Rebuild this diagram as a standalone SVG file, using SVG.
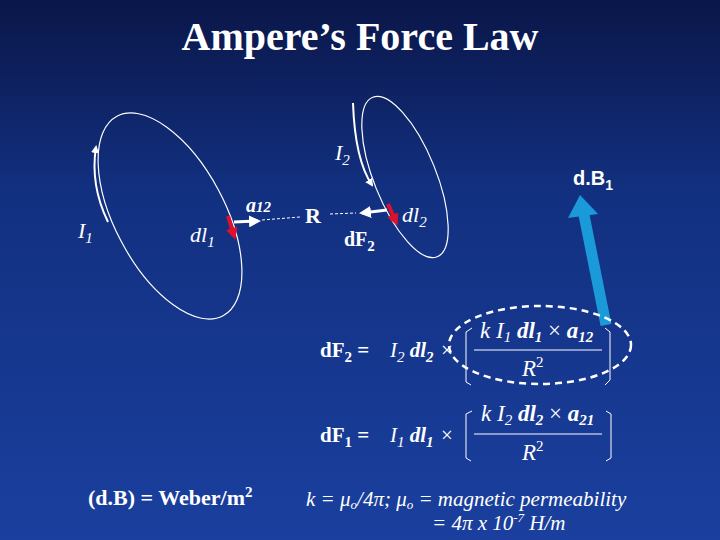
<svg xmlns="http://www.w3.org/2000/svg" width="720" height="540" viewBox="0 0 720 540">
<defs>
<linearGradient id="bg" x1="0" y1="0" x2="0" y2="1"><stop offset="0" stop-color="#0a1648"/><stop offset="0.35" stop-color="#123080"/><stop offset="1" stop-color="#1a3f9e"/></linearGradient>
<marker id="wa" markerWidth="4" markerHeight="4" refX="3" refY="2" orient="auto" markerUnits="strokeWidth"><path d="M0,0L4,2L0,4z" fill="#fff"/></marker>
<marker id="ra" markerWidth="3" markerHeight="3" refX="2" refY="1.5" orient="auto" markerUnits="strokeWidth"><path d="M0,0L3,1.5L0,3z" fill="#e0102a"/></marker>
<style>
.t{font-family:"Liberation Serif",serif;fill:#fff}
.b{font-weight:bold}.i{font-style:italic}
.loop{fill:none;stroke:#fff;stroke-width:1.2}
.br{fill:none;stroke:#fff;stroke-width:1}
</style>
</defs>
<rect width="720" height="540" fill="url(#bg)"/>
<text class="t b" x="360" y="50" font-size="40" text-anchor="middle">Ampere’s Force Law</text>
<g id="loop1"><ellipse class="loop" cx="170" cy="216" rx="55" ry="113" transform="rotate(-28 170 216)"/></g>
<g id="loop2"><ellipse class="loop" cx="405" cy="177" rx="31" ry="86" transform="rotate(-22 405 177)"/></g>
<g id="connectors">
<path d="M108,222 Q90,185 96,147" fill="none" stroke="#fff" stroke-width="2" marker-end="url(#wa)"/>
<path d="M353,103 Q355,160 372,185" fill="none" stroke="#fff" stroke-width="2" marker-end="url(#wa)"/>
<line x1="228" y1="216" x2="234" y2="236" stroke="#e0102a" stroke-width="4" marker-end="url(#ra)"/>
<line x1="388" y1="204" x2="396" y2="222" stroke="#e0102a" stroke-width="4" marker-end="url(#ra)"/>
<line x1="234" y1="222" x2="258" y2="221" stroke="#fff" stroke-width="3" marker-end="url(#wa)"/>
<line x1="262" y1="220" x2="300" y2="217" stroke="#fff" stroke-width="1" stroke-dasharray="3,2"/>
<line x1="330" y1="214" x2="356" y2="213" stroke="#fff" stroke-width="1" stroke-dasharray="3,2"/>
<line x1="387" y1="210" x2="362" y2="213" stroke="#fff" stroke-width="3" marker-end="url(#wa)"/>
<line x1="606" y1="325" x2="584" y2="215" stroke="#1a9ad8" stroke-width="11"/>
<path d="M568,218 L580,195 L598,214 z" fill="#1a9ad8"/>
</g>
<g id="labels">
<text class="t i" x="78" y="238" font-size="22">I<tspan font-size="15" dy="5">1</tspan></text>
<text class="t i" x="190" y="242" font-size="22">dl<tspan font-size="15" dy="5">1</tspan></text>
<text class="t i b" x="246" y="212" font-size="20">a<tspan font-size="15">12</tspan></text>
<text class="t b" x="305" y="223" font-size="22">R</text>
<text class="t b" x="344" y="246" font-size="20">dF<tspan font-size="15" dy="5">2</tspan></text>
<text class="t i" x="335" y="160" font-size="22">I<tspan font-size="15" dy="5">2</tspan></text>
<text class="t i" x="402" y="222" font-size="22">dl<tspan font-size="15" dy="5">2</tspan></text>
<text x="573" y="185" font-size="20" font-family="Liberation Sans,sans-serif" font-weight="bold" fill="#fff">d.B<tspan font-size="14" dy="5">1</tspan></text>
</g>
<g id="eq1">
<text class="t b" x="320" y="357" font-size="21">dF<tspan font-size="15" dy="5">2</tspan><tspan dy="-5"> = </tspan></text>
<text class="t i" x="390" y="357" font-size="21">I<tspan font-size="15" dy="5">2</tspan><tspan dy="-5" font-weight="bold"> dl</tspan><tspan font-size="15" dy="5" font-weight="bold">2</tspan></text>
<text class="t" x="441" y="357" font-size="21">×</text>
<path class="br" d="M472,328 L466,332 L466,382 L471,385 M605,328 L610,332 L610,380 L605,385"/>
<text class="t i" x="480" y="338" font-size="23">k I<tspan font-size="15" dy="4">1</tspan><tspan dy="-4" font-weight="bold"> dl</tspan><tspan font-size="15" dy="4" font-weight="bold">1</tspan><tspan dy="-4" font-style="normal"> × </tspan><tspan font-weight="bold">a</tspan><tspan font-size="15" dy="4" font-weight="bold">12</tspan></text>
<line x1="474" y1="350" x2="602" y2="350" stroke="#fff" stroke-width="1"/>
<text class="t i" x="522" y="376" font-size="23">R<tspan font-size="15" dy="-9" font-style="normal">2</tspan></text>
<ellipse cx="540" cy="345" rx="91" ry="39" fill="none" stroke="#fff" stroke-width="2.5" stroke-dasharray="7,5"/>
</g>
<g id="eq2">
<text class="t b" x="320" y="442" font-size="21">dF<tspan font-size="15" dy="5">1</tspan><tspan dy="-5"> = </tspan></text>
<text class="t i" x="390" y="442" font-size="21">I<tspan font-size="15" dy="5">1</tspan><tspan dy="-5" font-weight="bold"> dl</tspan><tspan font-size="15" dy="5" font-weight="bold">1</tspan></text>
<text class="t" x="441" y="442" font-size="21">×</text>
<path class="br" d="M472,411 L466,414 L466,458 L471,461 M606,411 L611,414 L611,458 L606,461"/>
<text class="t i" x="481" y="421" font-size="23">k I<tspan font-size="15" dy="4">2</tspan><tspan dy="-4" font-weight="bold"> dl</tspan><tspan font-size="15" dy="4" font-weight="bold">2</tspan><tspan dy="-4" font-style="normal"> × </tspan><tspan font-weight="bold">a</tspan><tspan font-size="15" dy="4" font-weight="bold">21</tspan></text>
<line x1="474" y1="434" x2="602" y2="434" stroke="#fff" stroke-width="1"/>
<text class="t i" x="522" y="460" font-size="23">R<tspan font-size="15" dy="-9" font-style="normal">2</tspan></text>
</g>
<text class="t b" x="88" y="505" font-size="22">(d.B) = Weber/m<tspan font-size="15" dy="-8">2</tspan></text>
<text class="t i" x="306" y="506" font-size="21">k = μ<tspan font-size="13" dy="3">o</tspan><tspan dy="-3">/4π;  μ</tspan><tspan font-size="13" dy="3">o</tspan><tspan dy="-3"> = magnetic permeability</tspan></text>
<text class="t i" x="432" y="530" font-size="21">= 4π x 10<tspan font-size="13" dy="-8">-7</tspan><tspan dy="8"> H/m</tspan></text>
</svg>
